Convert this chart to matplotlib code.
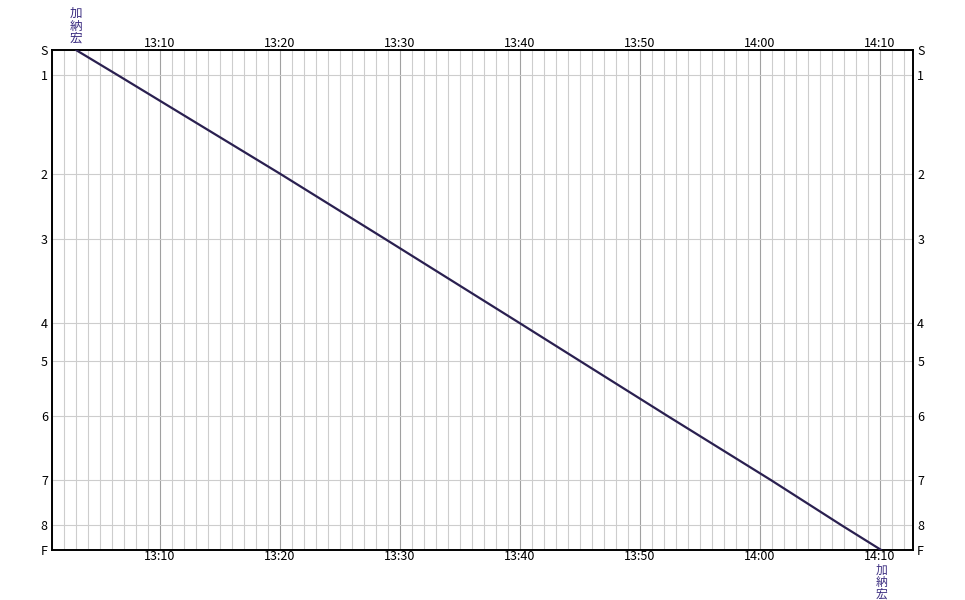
import matplotlib
matplotlib.use("Agg")
import matplotlib.pyplot as plt
import numpy as np

plt.rcParams['font.family'] = ['Noto Sans CJK JP', 'DejaVu Sans']

stations = ["S", "1", "2", "3", "4", "5", "6", "7", "8", "F"]
station_pos = [0, 25.3, 123.7, 189.3, 273.3, 311, 366, 430, 475.3, 500]
# minutes after 13:00
pass_times = [3.0, 6.5, 20.0, 28.8, 40.0, 45.0, 52.3, 60.9, 66.8, 70.1]
major_ticks = [10, 20, 30, 40, 50, 60, 70]
major_labels = ["13:10", "13:20", "13:30", "13:40", "13:50", "14:00", "14:10"]
runner = "加納宏"

x_min, x_max = 1.0, 72.75

fig = plt.figure(figsize=(9.65, 6.0), dpi=100)
ax = fig.add_axes([52/965, 50/600, (913-52)/965, 500/600])
ax.set_xlim(x_min, x_max)
ax.set_ylim(500, 0)

# minor vertical grid every minute
for m in range(int(np.ceil(x_min)), int(x_max) + 1):
    if m % 10 == 0:
        ax.axvline(m, color="#a0a0a0", lw=0.8, zorder=1)
    else:
        ax.axvline(m, color="#cdcdcd", lw=0.8, zorder=1)
for p in station_pos:
    ax.axhline(p, color="#cdcdcd", lw=0.8, zorder=1)

ax.plot(pass_times, station_pos, color="#2a2050", lw=1.6, zorder=3,
        solid_capstyle="round")

for s in ax.spines.values():
    s.set_color("black")
    s.set_linewidth(1.4)

ax.set_xticks(major_ticks)
ax.set_xticklabels(major_labels)
ax.set_yticks(station_pos)
ax.set_yticklabels(stations)
ax.tick_params(axis="both", length=0, labelsize=9, colors="black")
ax.tick_params(axis="x", top=True, labeltop=True, bottom=True, labelbottom=True, pad=0)
ax.tick_params(axis="y", left=True, right=True, labelleft=True, labelright=True, pad=3)

# runner labels, vertical stacked
vtxt = "\n".join(runner)
ax.text(pass_times[0], -5, vtxt, ha="center", va="bottom", color="#3a2c80",
        fontsize=9, linespacing=0.95, clip_on=False)
ax.text(pass_times[-1], 514, vtxt, ha="center", va="top", color="#3a2c80",
        fontsize=8.5, linespacing=0.9, clip_on=False)

fig.savefig("out.png", dpi=100, facecolor="white")
